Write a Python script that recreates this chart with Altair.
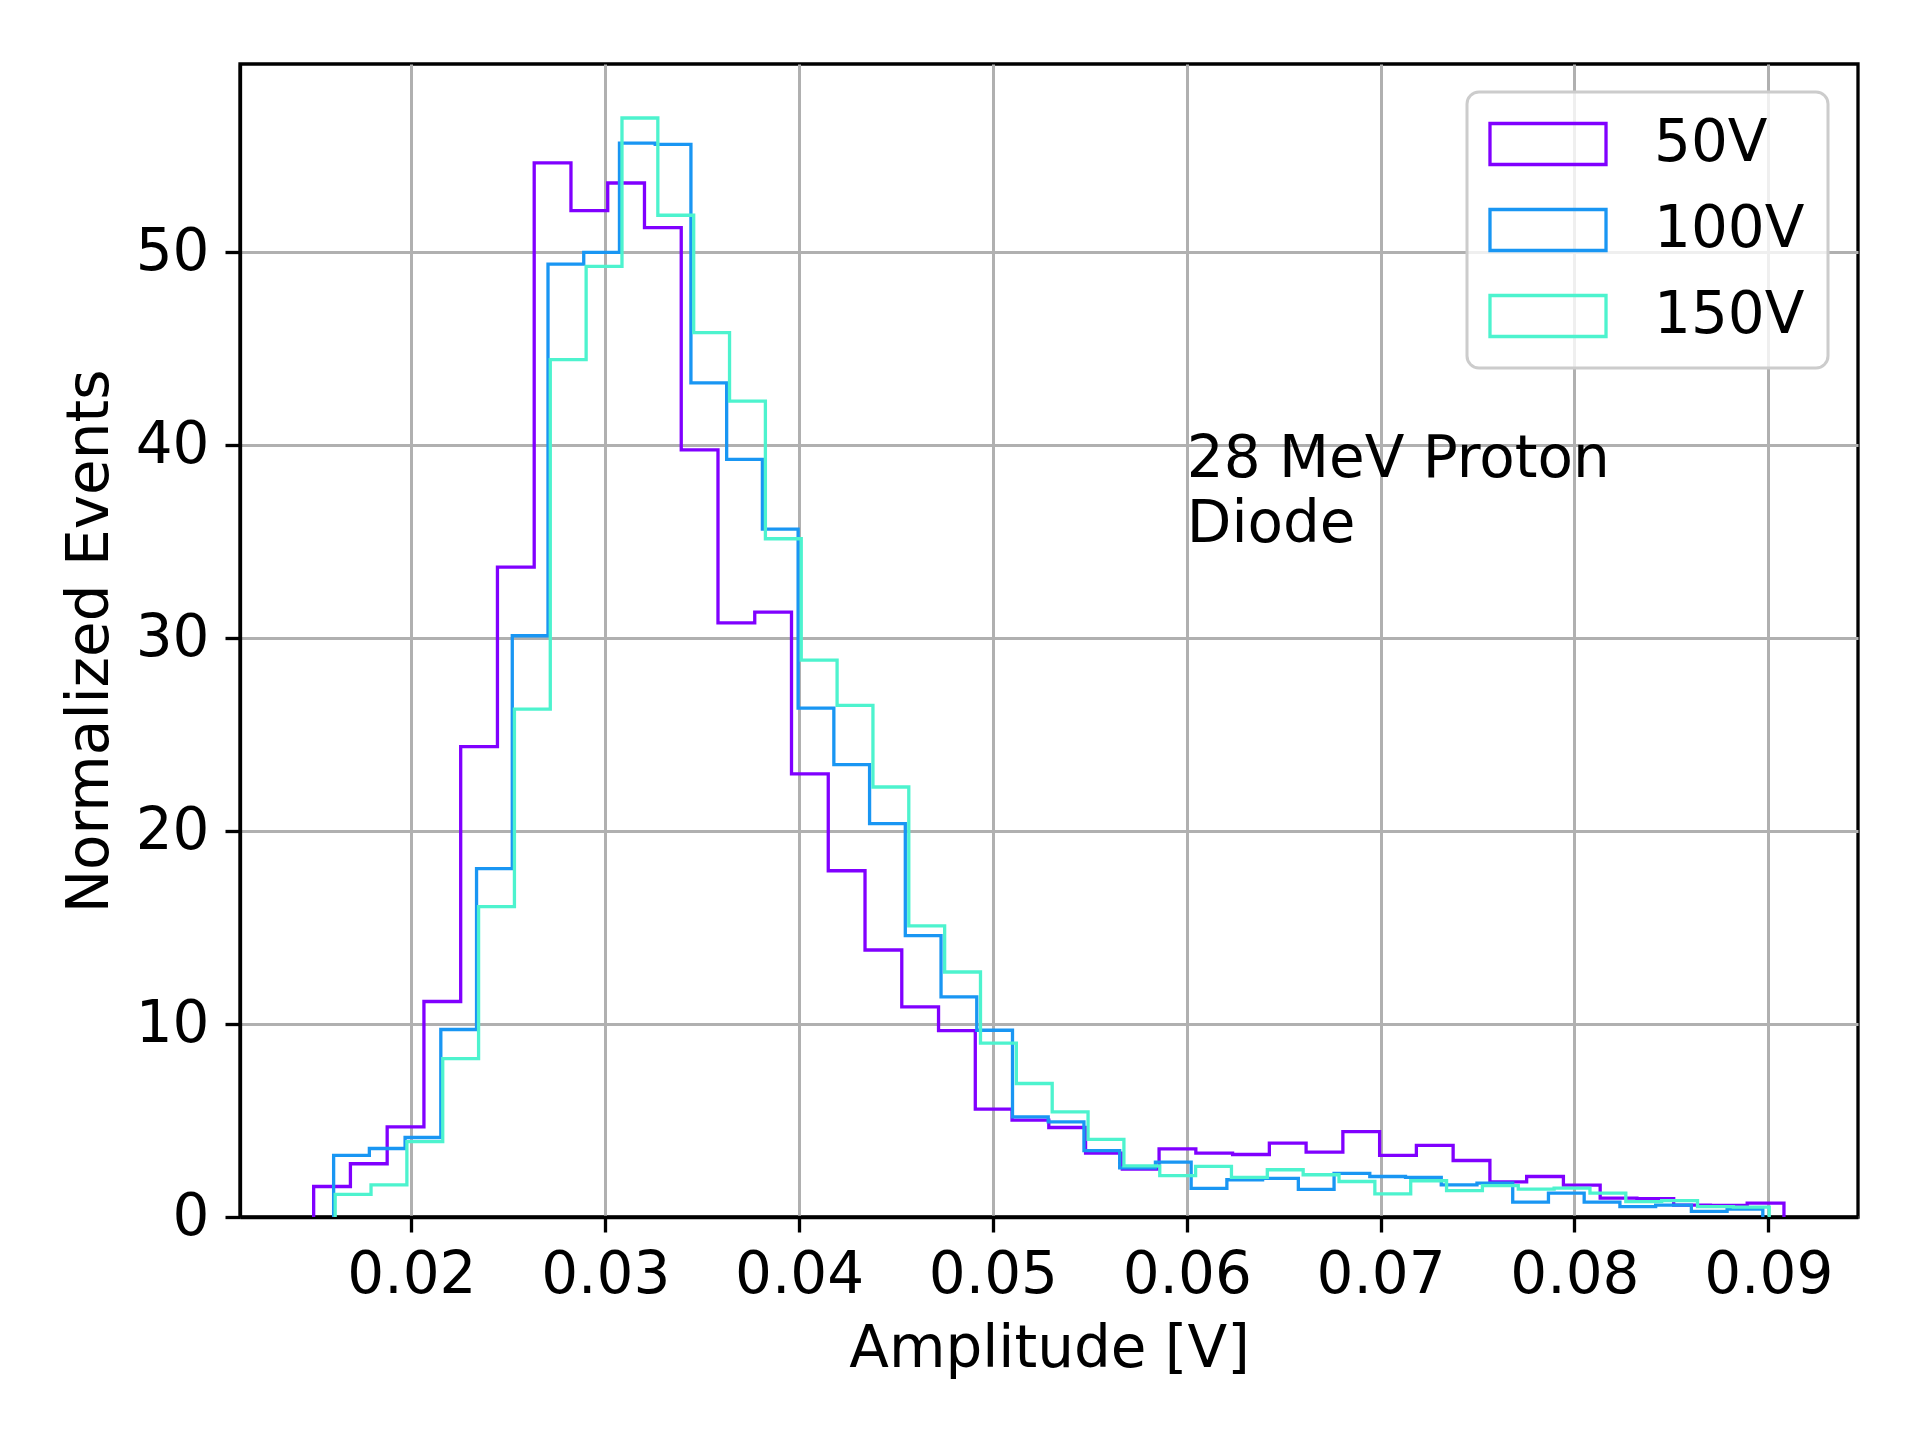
import altair as alt
import pandas as pd

# ---- data ----
SERIES = ["50V", "100V", "150V"]
COLORS = ["#8000ff", "#1996f3", "#4df3ce"]

# histogram range (first edge, last edge) for each series, 40 equal bins
RANGE_50 = [0.01496, 0.09081]
RANGE_100 = [0.01599, 0.08972]
RANGE_150 = [0.01607, 0.09005]

V50 = [1.58, 2.76, 4.67, 11.17, 24.38, 33.69, 54.64, 52.17, 53.6, 51.29,
       39.77, 30.8, 31.36, 22.97, 17.95, 13.84, 10.89, 9.66, 5.59, 5.02,
       4.64, 3.31, 2.48, 3.53, 3.31, 3.24, 3.83, 3.36, 4.43, 3.19,
       3.71, 2.93, 1.82, 2.1, 1.65, 0.98, 0.95, 0.62, 0.6, 0.72]
V100 = [3.19, 3.55, 4.12, 9.72, 18.06, 30.13, 49.4, 50.0, 55.67, 55.6,
        43.24, 39.27, 35.66, 26.38, 23.45, 20.39, 14.59, 11.41, 9.68, 5.19,
        4.93, 3.44, 2.55, 2.84, 1.48, 1.93, 2.0, 1.43, 2.26, 2.1,
        2.05, 1.67, 1.76, 0.77, 1.24, 0.77, 0.54, 0.62, 0.29, 0.41]
V150 = [1.17, 1.67, 3.91, 8.21, 16.09, 26.33, 44.45, 49.28, 56.97, 51.93,
        45.85, 42.29, 35.16, 28.87, 26.52, 22.29, 15.09, 12.7, 9.01, 6.92,
        5.45, 4.02, 2.65, 2.15, 2.62, 2.05, 2.45, 2.19, 1.84, 1.2,
        1.88, 1.37, 1.63, 1.45, 1.5, 1.24, 0.8, 0.85, 0.54, 0.51]

X_TICKS = [0.02, 0.03, 0.04, 0.05, 0.06, 0.07, 0.08, 0.09]
Y_TICKS = [0, 10, 20, 30, 40, 50]
X_DOMAIN = [0.01116, 0.09463]
Y_DOMAIN = [0, 59.77]

ANNOT_TEXT = ["28 MeV Proton", "Diode"]
ANNOT_X = 0.06
ANNOT_Y = 35

FONT = "DejaVu Sans"
FS = 58


def outline(name, rng, vals):
    n = len(vals)
    w = (rng[1] - rng[0]) / n
    edges = [rng[0] + i * w for i in range(n + 1)]
    pts = [(edges[0], 0.0)]
    for i, v in enumerate(vals):
        pts.append((edges[i], v))
    pts.append((edges[n], vals[-1]))
    pts.append((edges[n], 0.0))
    return [{"series": name, "x": x, "y": y, "idx": k} for k, (x, y) in enumerate(pts)]


rows = (outline("50V", RANGE_50, V50) + outline("100V", RANGE_100, V100)
        + outline("150V", RANGE_150, V150))
df = pd.DataFrame(rows)

xscale = alt.Scale(domain=X_DOMAIN, nice=False, zero=False)
yscale = alt.Scale(domain=Y_DOMAIN, nice=False, zero=False)

legend = alt.Legend(
    title=None, orient="none", legendX=1227, legendY=28, padding=23,
    symbolType="M-2.83,-1L2.83,-1L2.83,1L-2.83,1Z", symbolSize=1681,
    symbolStrokeWidth=3.3, symbolFillColor="transparent",
    symbolOffset=29, labelOffset=77, rowPadding=28,
    labelFont=FONT, labelFontSize=FS, labelColor="black",
    fillColor="rgba(255,255,255,0.8)", strokeColor="#cccccc", cornerRadius=12,
)

lines = alt.Chart(df).mark_line(interpolate="step-after", strokeWidth=3.3).encode(
    x=alt.X("x:Q", scale=xscale, axis=alt.Axis(
        values=X_TICKS, format=".2f", title="Amplitude [V]", labelPadding=14,
        labelFlush=False, labelOverlap=False,
        titleY=149, titleBaseline="alphabetic")),
    y=alt.Y("y:Q", scale=yscale, axis=alt.Axis(
        values=Y_TICKS, format="d", title="Normalized Events", labelPadding=16,
        labelOverlap=False,
        titleX=-133, titleY=577, titleAngle=270, titleBaseline="alphabetic",
        titleAlign="center")),
    color=alt.Color("series:N", scale=alt.Scale(domain=SERIES, range=COLORS),
                    legend=legend),
    order="idx:Q",
)

annot = alt.Chart(pd.DataFrame({"x": [ANNOT_X], "y": [ANNOT_Y], "t": [ANNOT_TEXT]})).mark_text(
    align="left", baseline="bottom", font=FONT, fontSize=FS, color="black",
    lineHeight=65, dy=-53,
).encode(x=alt.X("x:Q", scale=xscale), y=alt.Y("y:Q", scale=yscale), text="t")

chart = alt.layer(lines, annot).properties(
    width=1618, height=1153, autosize="none",
    padding={"left": 232, "top": 56, "right": 54, "bottom": 200},
).configure_view(stroke="black", strokeWidth=3.3).configure_axis(
    domainColor="black", domainWidth=3.3, tickColor="black", tickWidth=3.3,
    tickSize=15, labelFont=FONT, labelFontSize=FS, labelColor="black",
    titleFont=FONT, titleFontSize=FS, titleFontWeight="normal", titleColor="black",
    grid=True, gridColor="#b0b0b0", gridWidth=3,
).configure_legend(strokeWidth=3)

chart.save("out.html", embed_options={"renderer": "svg", "actions": False})
